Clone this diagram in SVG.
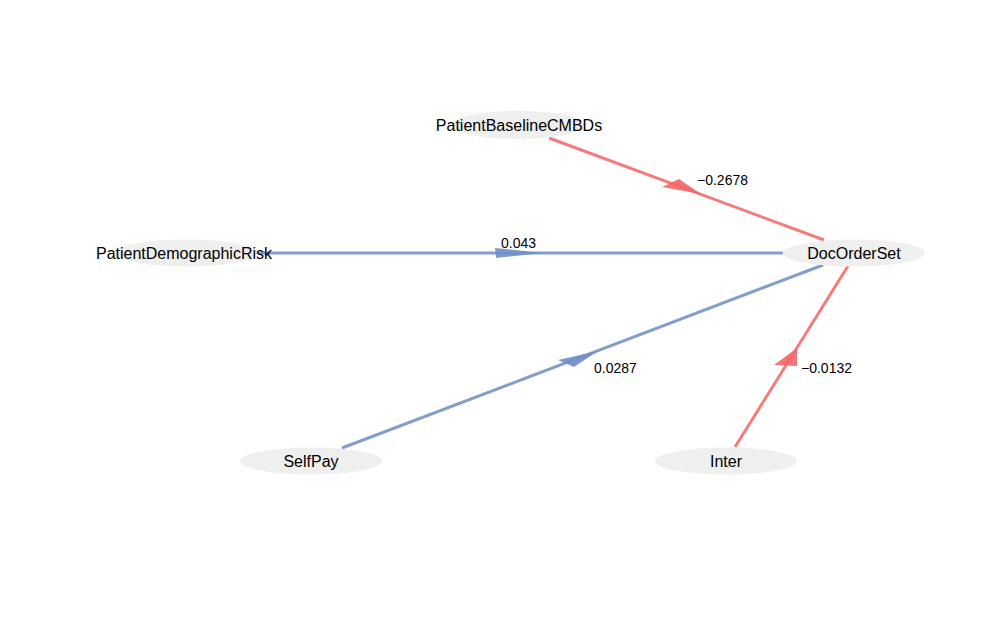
<svg xmlns="http://www.w3.org/2000/svg" width="1000" height="640" viewBox="0 0 1000 640">
<style>
.node ellipse{fill:#EFEFEF;stroke:none}
.node text{font-family:"Liberation Sans",Arial,sans-serif;font-size:16px;fill:#000;text-anchor:middle}
.lbl{font-family:"Liberation Sans",Arial,sans-serif;font-size:14px;fill:#000}
.neg{stroke:#F57B7B;stroke-width:3;fill:none}
.pos{stroke:#829FCC;stroke-width:3;fill:none}
.negh{fill:#F36666;fill-opacity:0.9;stroke:none}
.posh{fill:#6F8EC6;fill-opacity:0.9;stroke:none}
</style>
<rect width="1000" height="640" fill="#FFFFFF"/>
<g id="connectors">
<g id="e1"><line class="neg" x1="549" y1="138" x2="824" y2="240"/><polygon class="negh" points="662,187 679,179 701,194"/></g>
<g id="e2"><line class="pos" x1="258" y1="253" x2="783" y2="253"/><polygon class="posh" points="495,248 496,258 543,253"/></g>
<g id="e3"><line class="pos" x1="342" y1="448" x2="823" y2="265"/><polygon class="posh" points="558,360 574,367 598,351"/></g>
<g id="e4"><line class="neg" x1="735" y1="447" x2="848" y2="266"/><polygon class="negh" points="774,365 797,366 797,348"/></g>
<text class="lbl" x="697" y="185">−0.2678</text>
<text class="lbl" x="501" y="248">0.043</text>
<text class="lbl" x="594" y="373">0.0287</text>
<text class="lbl" x="801" y="373">−0.0132</text>
</g>
<g id="PatientBaselineCMBDs" class="node"><ellipse cx="518" cy="125" rx="66" ry="14"/><text x="519" y="131">PatientBaselineCMBDs</text></g>
<g id="PatientDemographicRisk" class="node"><ellipse cx="186" cy="253" rx="71" ry="13.5"/><text x="184" y="259">PatientDemographicRisk</text></g>
<g id="DocOrderSet" class="node"><ellipse cx="854" cy="253" rx="71" ry="13.5"/><text x="854" y="259">DocOrderSet</text></g>
<g id="SelfPay" class="node"><ellipse cx="311" cy="461" rx="71" ry="13.5"/><text x="311" y="467">SelfPay</text></g>
<g id="Inter" class="node"><ellipse cx="726" cy="461" rx="71" ry="13.5"/><text x="726" y="467">Inter</text></g>
</svg>
